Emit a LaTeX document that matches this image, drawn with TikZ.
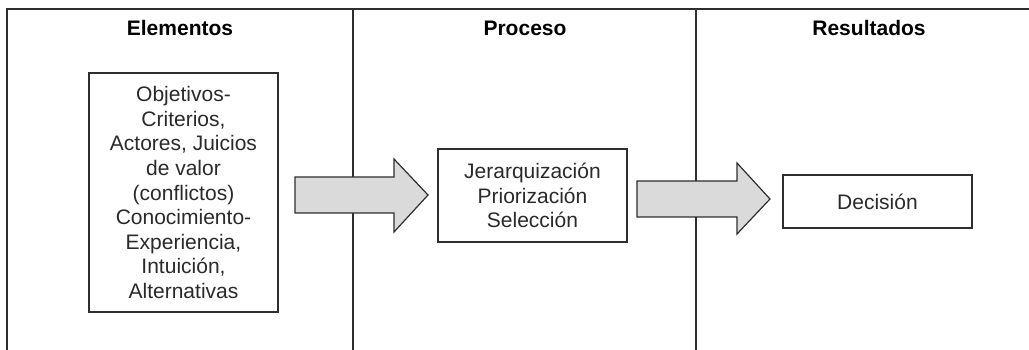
\documentclass[tikz,border=0pt]{standalone}
\usepackage{fontspec}
\setmainfont{Liberation Sans}
\definecolor{linec}{HTML}{2E2E2E}
\definecolor{textc}{HTML}{2A2A2A}
\definecolor{arrowfill}{HTML}{DADADA}
\tikzset{
  frameline/.style={draw=linec, line width=1.3pt},
  head/.style={font=\fontsize{21}{24.6}\selectfont\bfseries, text=black, anchor=center},
  itembox/.style={draw=linec, line width=1.2pt, fill=white, align=center, text=textc,
    font=\fontsize{21}{24.6}\selectfont, inner sep=0pt},
  blockarrow/.style={draw=linec, line width=1.2pt, fill=arrowfill, line join=miter}
}
\begin{document}
\begin{tikzpicture}[x=1pt, y=-1pt]
\useasboundingbox (0,0) rectangle (1029,350);
% frame
\draw[frameline] (7,350) -- (7,9) -- (1029,9);
\draw[frameline] (353,9) -- (353,350);
\draw[frameline] (696,9) -- (696,350);
% headings
\node[head] (h1) at (180,28) {Elementos};
\node[head] (h2) at (525,28) {Proceso};
\node[head] (h3) at (869,28) {Resultados};
% boxes
\node[itembox, minimum width=189pt, minimum height=239pt] (elem) at (183.5,192.5)
  {Objetivos-\\Criterios,\\Actores, Juicios\\de valor\\(conflictos)\\Conocimiento-\\Experiencia,\\Intuición,\\Alternativas};
\node[itembox, minimum width=189pt, minimum height=93pt] (proc) at (532.5,195.5)
  {Jerarquización\\Priorización\\Selección};
\node[itembox, minimum width=189pt, minimum height=53pt] (res) at (877.5,201.5)
  {Decisión};
% block arrows
\draw[blockarrow] (295,177) -- (394,177) -- (394,159) -- (428,195) -- (394,232)
  -- (394,213) -- (295,213) -- cycle;
\draw[blockarrow] (637,181) -- (737,181) -- (737,163) -- (770,199) -- (737,234)
  -- (737,217) -- (637,217) -- cycle;
\end{tikzpicture}
\end{document}
